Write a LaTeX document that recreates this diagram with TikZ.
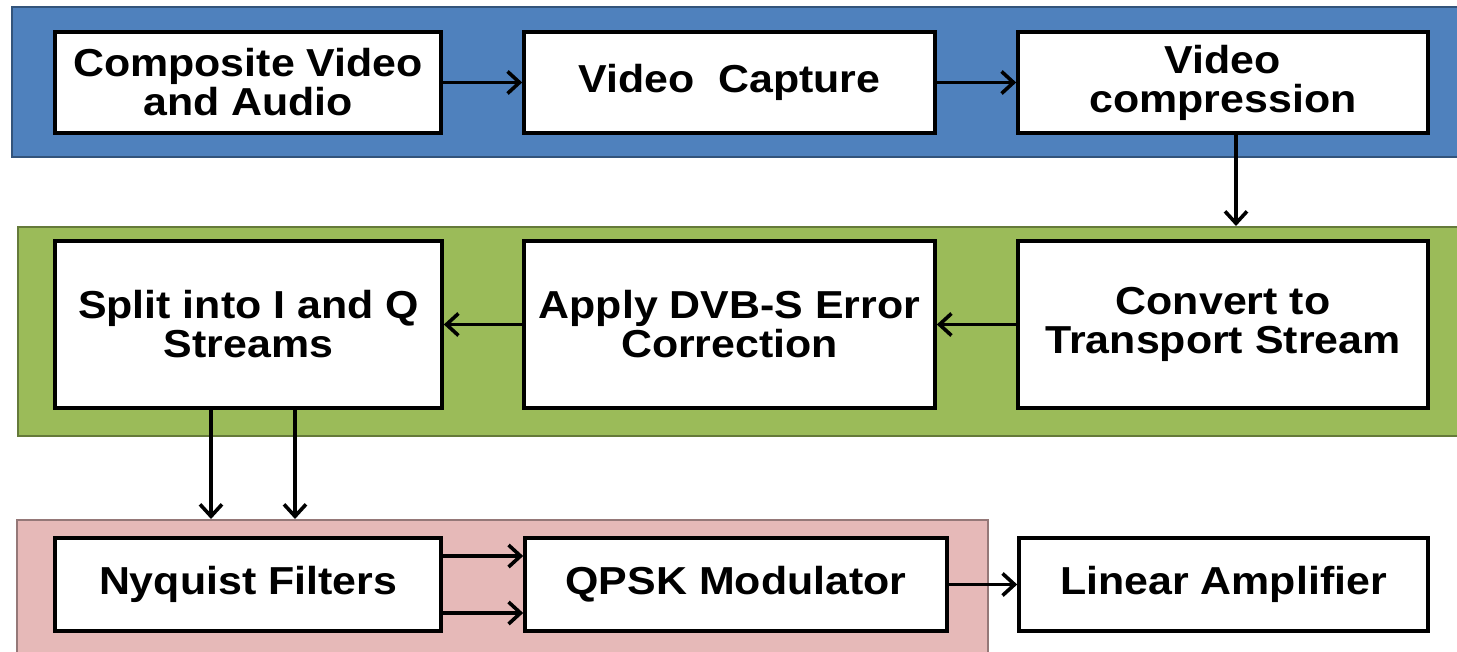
\documentclass[tikz,border=0pt]{standalone}
\usepackage{fontspec}
\setmainfont{Liberation Sans}[FakeStretch=1.1]
\usetikzlibrary{arrows.meta,calc}
\definecolor{bandblue}{RGB}{79,129,189}
\definecolor{bandgreen}{RGB}{155,187,89}
\definecolor{bandpink}{RGB}{230,185,184}
\tikzset{
  band/.style={draw=#1!65!black, fill=#1, line width=1pt, inner sep=0pt},
  blk/.style={draw, fill=white, line width=1.8pt, align=center, inner sep=2pt,
    font=\bfseries\fontsize{19.5}{19.5}\selectfont},
  flow/.style={-{Straight Barb[length=6pt,width=11pt]}, line width=1.8pt},
}

\begin{document}
\begin{tikzpicture}[x=0.5pt, y=-0.5pt]
  \clip (0,0) rectangle (1457,652);
  % coloured stages
  \node[band=bandblue, minimum width=729pt, minimum height=75pt] (topband) at (741,82) {};
  \node[band=bandgreen, minimum width=726pt, minimum height=104.5pt] (midband) at (744,331.5) {};
  \node[band=bandpink, minimum width=485.5pt, minimum height=75pt] (lowband) at (502.5,595) {};
  % capture and compression
  \node[blk, minimum width=193pt, minimum height=50.5pt] (comp) at (248,82.5) {Composite Video\\ and Audio};
  \node[blk, minimum width=205.5pt, minimum height=50.5pt] (capture) at (729.5,82.5) {Video\ \ Capture};
  \node[blk, minimum width=205pt, minimum height=50.5pt] (compress) at (1223,82.5) {Video\\ compression};
  % stream and coding
  \node[blk, minimum width=193.5pt, minimum height=83.5pt] (split) at (248.5,324.5) {Split into I and Q\\ Streams};
  \node[blk, minimum width=205.5pt, minimum height=83.5pt] (apply) at (729.5,324.5) {Apply DVB-S Error\\ Correction};
  \node[blk, minimum width=205pt, minimum height=83.5pt] (convert) at (1223,324.5) {Convert to\\ Transport Stream};
  % modulation
  \node[blk, minimum width=193pt, minimum height=46.5pt] (nyq) at (248,584.5) {Nyquist Filters};
  \node[blk, minimum width=211pt, minimum height=46.5pt] (qpsk) at (736,584.5) {QPSK Modulator};
  \node[blk, minimum width=204.5pt, minimum height=46.5pt] (linamp) at (1223.5,584.5) {Linear Amplifier};

  \draw[flow] (comp) -- (capture);
  \draw[flow] (capture) -- (compress);
  \coordinate (drop) at ($(compress.south)+(13,0)$);
  \draw[flow] (drop) -- (drop |- midband.north);
  \draw[flow] (convert) -- (apply);
  \draw[flow] (apply) -- (split);
  \coordinate (iout) at ($(split.south)+(-37.5,0)$);
  \coordinate (qout) at ($(split.south)+(46.5,0)$);
  \draw[flow] (iout) -- (iout |- lowband.north);
  \draw[flow] (qout) -- (qout |- lowband.north);
  \draw[flow] ([yshift=14.25pt]nyq.east) -- ([yshift=14.25pt]qpsk.west);
  \draw[flow] ([yshift=-14.25pt]nyq.east) -- ([yshift=-14.25pt]qpsk.west);
  \draw[flow] (qpsk) -- (linamp);
\end{tikzpicture}
\end{document}
